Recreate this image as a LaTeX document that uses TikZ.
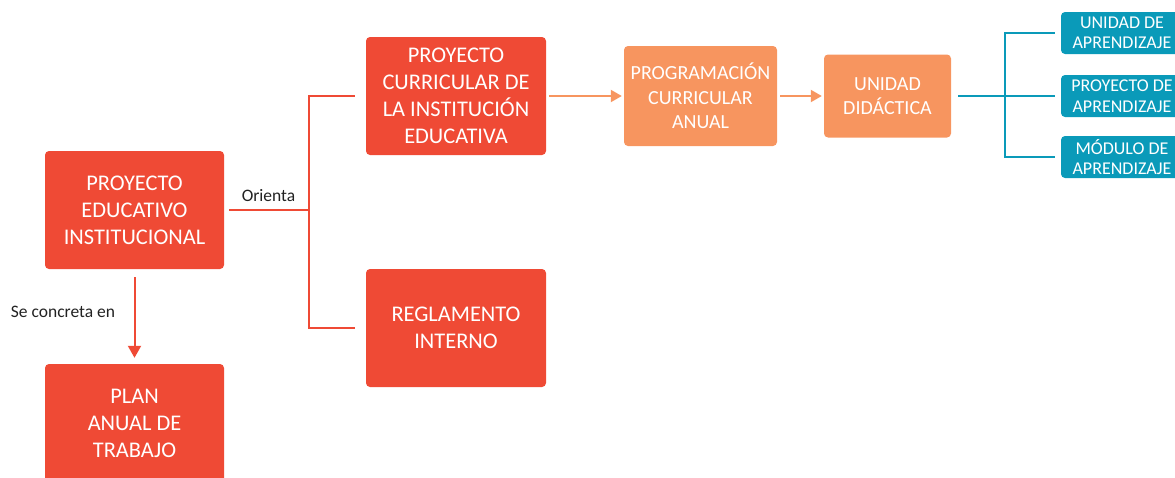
\documentclass[tikz,border=0pt]{standalone}
\usepackage{fontspec}
\setmainfont{Carlito}
\usetikzlibrary{arrows.meta}
\definecolor{cred}{HTML}{EF4A35}
\definecolor{corange}{HTML}{F7955F}
\definecolor{cblue}{HTML}{0A9AB9}
\definecolor{ctext}{HTML}{222222}
\tikzset{
  box/.style={rectangle, rounded corners=4pt, text=white, align=center, inner sep=0pt},
  bigbox/.style={box, fill=cred, minimum width=179pt, minimum height=118pt, font=\fontsize{22.4}{27}\selectfont},
  midbox/.style={box, fill=corange, font=\fontsize{20}{24.5}\selectfont},
  bluebox/.style={box, fill=cblue, minimum width=122pt, minimum height=42pt, font=\fontsize{18}{20.5}\selectfont},
  redline/.style={draw=cred, line width=2pt},
  orline/.style={draw=corange, line width=2pt},
  blueline/.style={draw=cblue, line width=2pt},
  lbl/.style={text=ctext, font=\fontsize{17.5}{20}\selectfont, inner sep=0pt}
}
\begin{document}
\begin{tikzpicture}[x=1pt,y=-1pt]
\useasboundingbox (0,0) rectangle (1175,477);
\node[bigbox] (pei) at (134.5,210) {PROYECTO\\EDUCATIVO\\INSTITUCIONAL};
\node[bigbox] (plan) at (134.5,423) {PLAN\\ANUAL DE\\TRABAJO};
\node[bigbox, minimum width=180pt] (pcie) at (456,96) {PROYECTO\\CURRICULAR DE\\LA INSTITUCIÓN\\EDUCATIVA};
\node[bigbox, minimum width=180pt] (reg) at (456,328) {REGLAMENTO\\INTERNO};
\node[midbox, minimum width=153pt, minimum height=100pt] (pca) at (700.5,96) {PROGRAMACIÓN\\CURRICULAR\\ANUAL};
\node[midbox, minimum width=127pt, minimum height=83pt] (ud) at (887.5,96) {UNIDAD\\DIDÁCTICA};
\node[bluebox] (b1) at (1122,33) {UNIDAD DE\\APRENDIZAJE};
\node[bluebox] (b2) at (1122,96) {PROYECTO DE\\APRENDIZAJE};
\node[bluebox] (b3) at (1122,157) {MÓDULO DE\\APRENDIZAJE};

\coordinate (ja) at (309,210);
\coordinate (jb) at (1005,96);

\draw[redline, shorten <=5pt] (pei.east) -- (ja);
\draw[redline, shorten >=11pt] (ja) |- (pcie.west);
\draw[redline, shorten >=11pt] (ja) |- (reg.west);
\node[lbl] (orienta) at (268.5,196) {Orienta};

\draw[redline, -{Triangle[width=13pt,length=12pt]}, shorten <=8pt, shorten >=6pt] (pei.south) -- (plan.north);
\node[lbl] (concreta) at (63,312) {Se concreta en};

\draw[orline, -{Triangle[width=12pt,length=11pt]}, shorten <=3pt, shorten >=2pt] (pcie.east) -- (pca.west);
\draw[orline, -{Triangle[width=12pt,length=11pt]}, shorten <=3pt, shorten >=2pt] (pca.east) -- (ud.west);

\draw[blueline, shorten <=7pt] (ud.east) -- (jb);
\draw[blueline, shorten >=6pt] (jb) |- (b1.west);
\draw[blueline, shorten >=6pt] (jb) |- (b2.west);
\draw[blueline, shorten >=6pt] (jb) |- (b3.west);
\end{tikzpicture}
\end{document}
